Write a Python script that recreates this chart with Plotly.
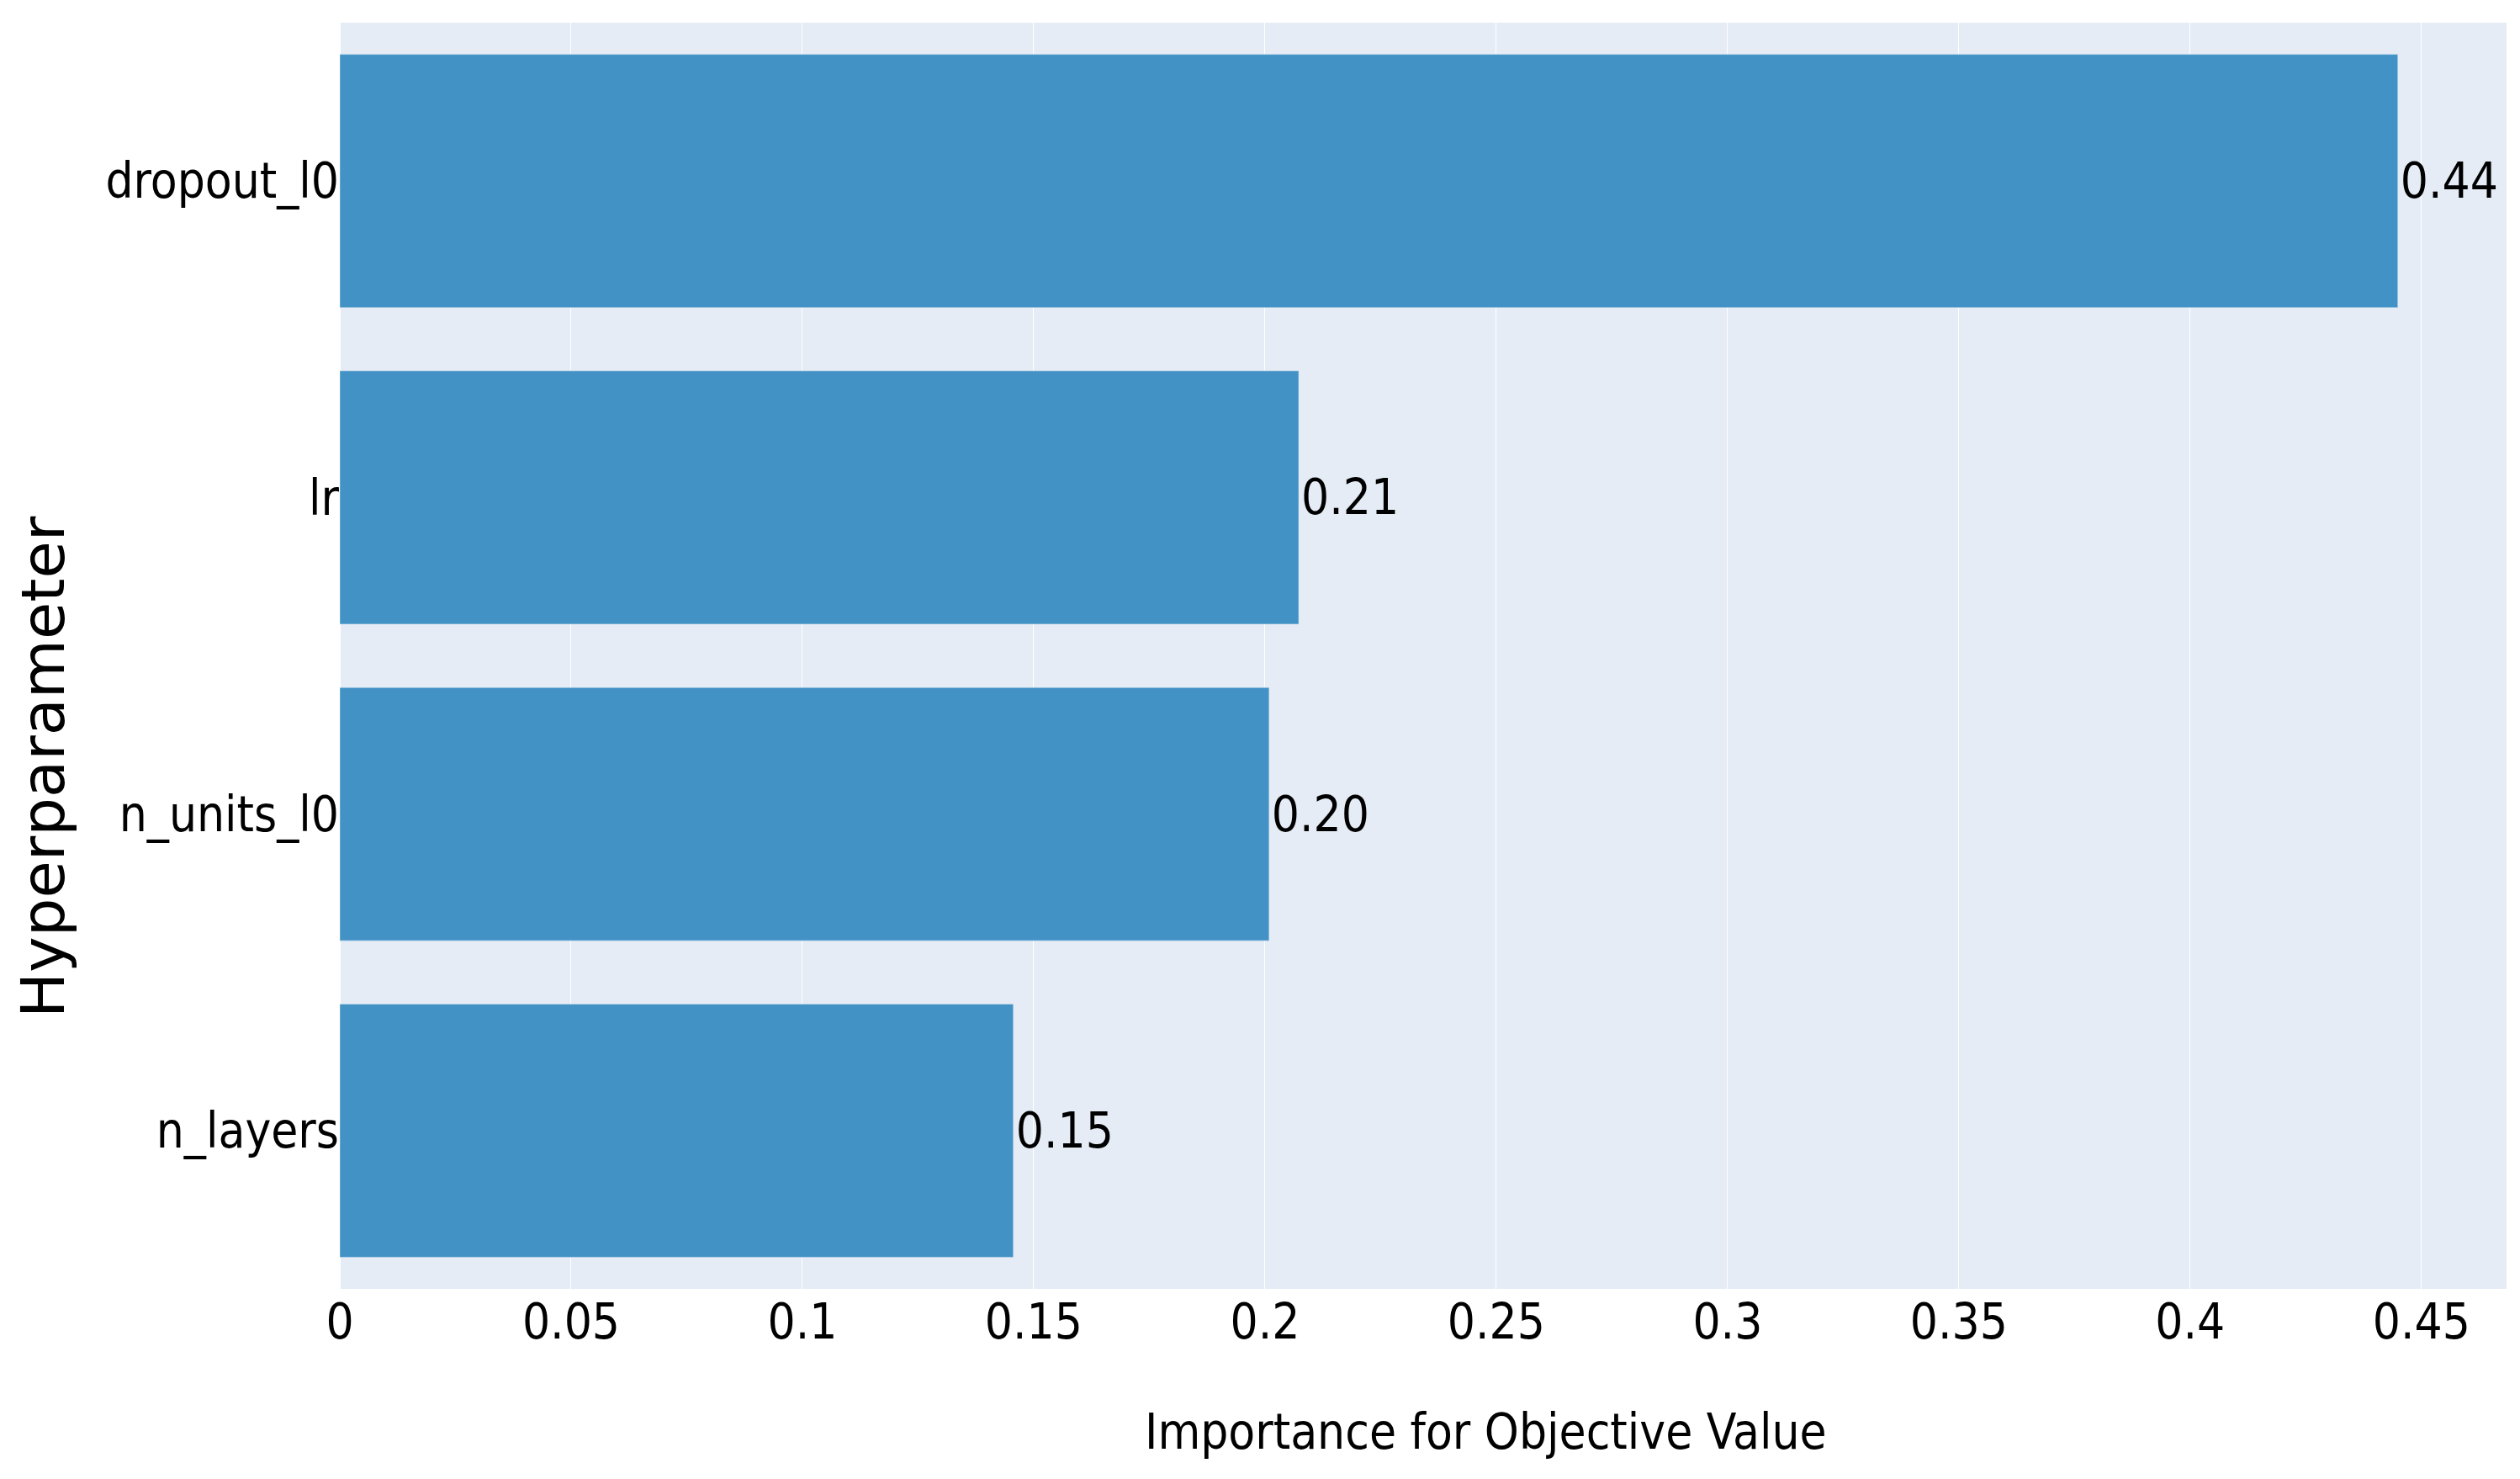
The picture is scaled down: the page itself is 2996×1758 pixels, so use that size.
import plotly.graph_objects as go

params = ["n_layers", "n_units_l0", "lr", "dropout_l0"]
importances = [0.1456, 0.2009, 0.2073, 0.4449]
labels = [f"{v:.2f}" for v in importances]
x_ticks = [0, 0.05, 0.1, 0.15, 0.2, 0.25, 0.3, 0.35, 0.4, 0.45]

NARROW = "Liberation Sans Narrow, DejaVu Sans Condensed, Arial Narrow, sans-serif"
FS = 58

fig = go.Figure(
    go.Bar(
        x=importances,
        y=params,
        orientation="h",
        text=labels,
        textposition="outside",
        cliponaxis=False,
        marker_color="rgb(66,146,198)",
        textfont=dict(family=NARROW, size=FS, color="black"),
    )
)

fig.update_layout(
    template="plotly",
    width=2996,
    height=1758,
    margin=dict(l=396, r=24, t=19, b=234, autoexpand=False),
    showlegend=False,
    font=dict(family=NARROW, size=FS, color="black"),
    annotations=[
        dict(text="Importance for Objective Value", xref="paper", yref="paper",
             x=0.529, y=-0.113, xanchor="center", yanchor="middle", showarrow=False,
             font=dict(family=NARROW, size=FS, color="black")),
        dict(text="Hyperparameter", xref="paper", yref="paper", textangle=-90,
             x=-0.137, y=0.412, xanchor="center", yanchor="middle", showarrow=False,
             font=dict(family="DejaVu Sans", size=72, color="black")),
    ],
)
fig.update_xaxes(
    range=[0, 0.4684],
    automargin=False,
    tickvals=x_ticks,
    ticktext=[f"{t:g}" for t in x_ticks],
    tickfont=dict(family=NARROW, size=FS, color="black"),
)
fig.update_yaxes(
    automargin=False,
    tickfont=dict(family=NARROW, size=FS, color="black"),
    ticklabelstandoff=0,
)

fig.write_html("out.html")
